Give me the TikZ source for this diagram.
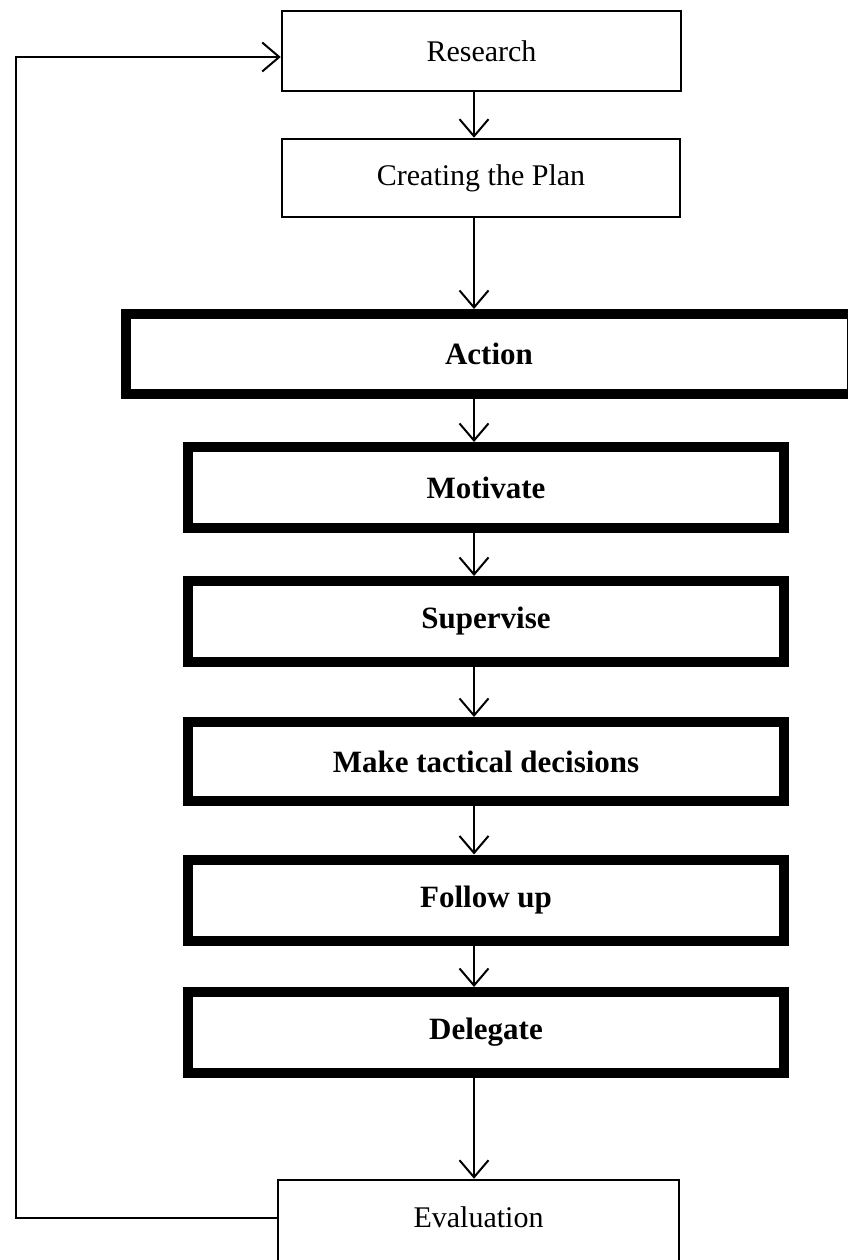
\documentclass[tikz,border=0pt]{standalone}
\usepackage{fontspec}
\setmainfont{Liberation Serif}
\usetikzlibrary{arrows.meta}

\tikzset{
  thinbox/.style={draw=black, line width=2.5pt, fill=white, rectangle,
    inner sep=0pt, font=\fontsize{30}{35}\selectfont},
  thickbox/.style={draw=black, line width=10pt, fill=white, rectangle,
    inner sep=0pt, font=\fontsize{31}{36}\selectfont\bfseries},
  flow/.style={draw=black, line width=2pt,
    -{Straight Barb[length=17pt, width=29pt, line width=2pt]}},
}

\begin{document}
\begin{tikzpicture}[x=1pt, y=-1pt]
  \useasboundingbox (0,0) rectangle (847,1260);

  % boxes of the cycle
  \node[thinbox, minimum width=399pt, minimum height=80pt] (research) at (481.5,51) {Research};
  \node[thinbox, minimum width=398pt, minimum height=78pt] (plan) at (481,178) {Creating the Plan};
  \node[thickbox, minimum width=726pt, minimum height=80pt] (action) at (489,354) {Action};
  \node[thickbox, minimum width=596pt, minimum height=81pt] (motivate) at (486,487.5) {Motivate};
  \node[thickbox, minimum width=596pt, minimum height=81pt] (supervise) at (486,621.5) {Supervise};
  \node[thickbox, minimum width=596pt, minimum height=79pt] (tactical) at (486,761.5) {Make tactical decisions};
  \node[thickbox, minimum width=596pt, minimum height=81pt] (follow) at (486,900) {Follow up};
  \node[thickbox, minimum width=596pt, minimum height=81pt] (delegate) at (486,1032.5) {Delegate};
  \node[thinbox, minimum width=401pt, minimum height=84pt, text height=20pt, text depth=10pt] (evaluation) at (478.5,1222) {Evaluation};

  % vertical line of the downward arrows
  \coordinate (spine) at (474,0);
  % corners of the feedback loop
  \coordinate (loopbot) at (16,1218);
  \coordinate (looptop) at (16,57);

  \draw[flow] (research.south -| spine) -- (plan.north -| spine);
  \draw[flow] (plan.south -| spine) -- (action.north -| spine);
  \draw[flow] (action.south -| spine) -- (motivate.north -| spine);
  \draw[flow] (motivate.south -| spine) -- (supervise.north -| spine);
  \draw[flow] (supervise.south -| spine) -- (tactical.north -| spine);
  \draw[flow] (tactical.south -| spine) -- (follow.north -| spine);
  \draw[flow] (follow.south -| spine) -- (delegate.north -| spine);
  \draw[flow] (delegate.south -| spine) -- (evaluation.north -| spine);

  % feedback from evaluation back to research
  \draw[flow] (evaluation.west |- loopbot) -- (loopbot) -- (looptop) -- (research.west |- looptop);
\end{tikzpicture}
\end{document}
